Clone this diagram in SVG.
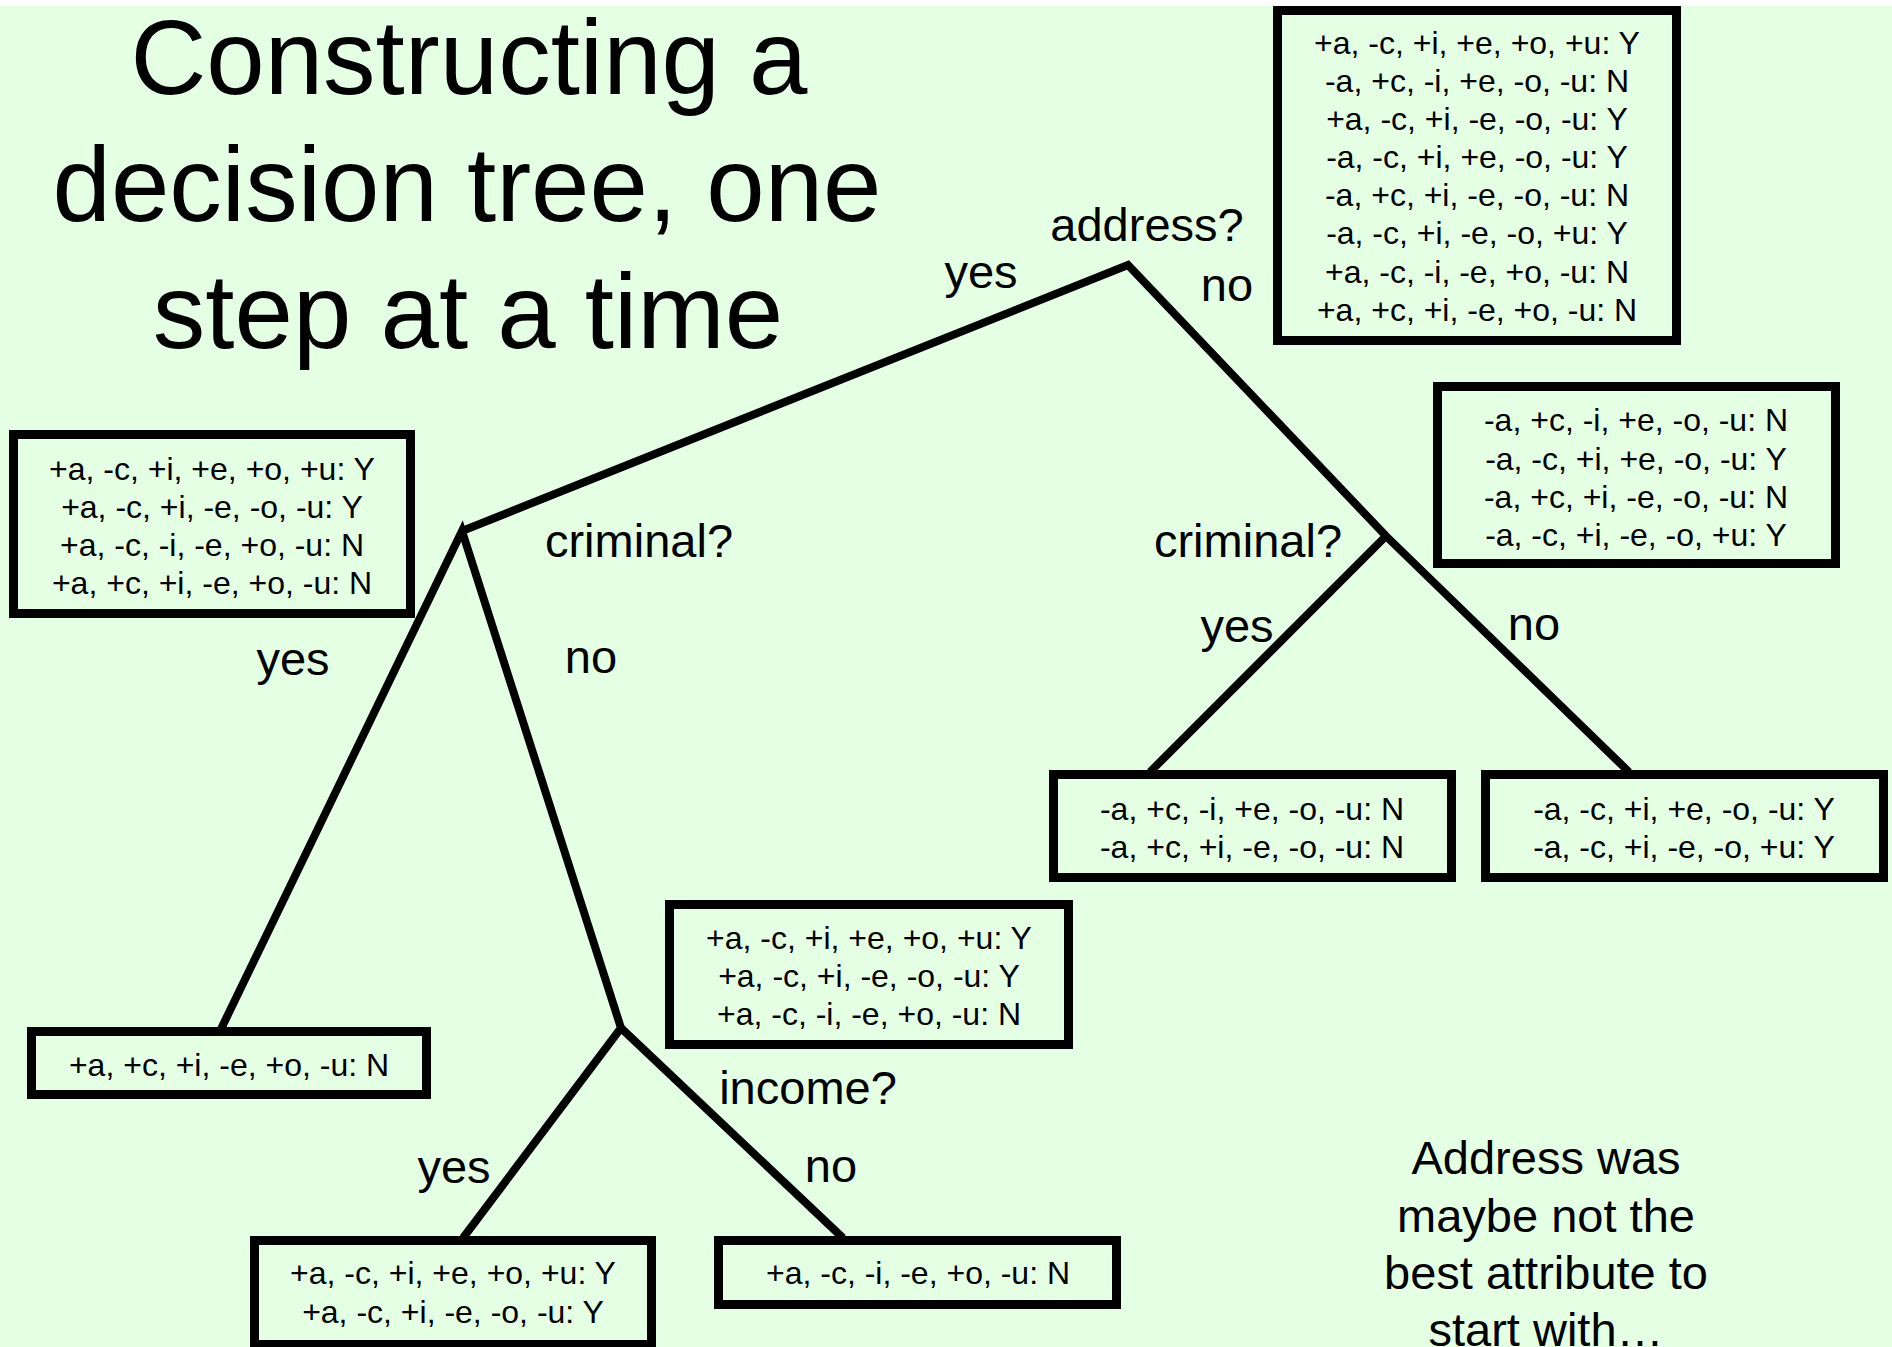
<svg xmlns="http://www.w3.org/2000/svg" width="1892" height="1347" viewBox="0 0 1892 1347">
<style>
text{font-family:"Liberation Sans",Arial,sans-serif;fill:#000;text-anchor:middle}
.title{font-size:105px}
.lbl{font-size:47px}
.data{font-size:32px}
.box{fill:none;stroke:#000;stroke-width:9}
.edge{stroke:#000;stroke-width:8;fill:none;stroke-linecap:butt;stroke-linejoin:miter}
</style>
<rect x="0" y="0" width="1892" height="1347" fill="#ffffff"/>
<rect x="0" y="6" width="1892" height="1341" fill="#E4FFE4"/>

<g id="title">
<text class="title" x="469" y="94">Constructing a</text>
<text class="title" x="467" y="221">decision tree, one</text>
<text class="title" x="468" y="348">step at a time</text>
</g>

<g id="connectors">
<polyline class="edge" points="462,531 1128,265 1386,536 1629,772"/>
<line class="edge" x1="1386" y1="536" x2="1150" y2="772"/>
<polyline class="edge" points="221,1029 462,531 621,1028 463,1238"/>
<line class="edge" x1="621" y1="1028" x2="843" y2="1238"/>
</g>

<g id="edge-labels">
<text class="lbl" x="981" y="288">yes</text>
<text class="lbl" x="1227" y="301">no</text>
<text class="lbl" x="293" y="675">yes</text>
<text class="lbl" x="591" y="673">no</text>
<text class="lbl" x="1237" y="642">yes</text>
<text class="lbl" x="1534" y="640">no</text>
<text class="lbl" x="454" y="1183">yes</text>
<text class="lbl" x="831" y="1182">no</text>
</g>

<g id="node-address">
<text class="lbl" x="1147" y="241">address?</text>
</g>
<g id="node-criminal-left">
<text class="lbl" x="639" y="557">criminal?</text>
</g>
<g id="node-criminal-right">
<text class="lbl" x="1248" y="557">criminal?</text>
</g>
<g id="node-income">
<text class="lbl" x="808" y="1104">income?</text>
</g>

<g id="box-root">
<rect class="box" x="1277.5" y="10.5" width="399" height="330"/>
<text class="data" x="1477" y="54">+a, -c, +i, +e, +o, +u: Y</text>
<text class="data" x="1477" y="92">-a, +c, -i, +e, -o, -u: N</text>
<text class="data" x="1477" y="130">+a, -c, +i, -e, -o, -u: Y</text>
<text class="data" x="1477" y="168">-a, -c, +i, +e, -o, -u: Y</text>
<text class="data" x="1477" y="206">-a, +c, +i, -e, -o, -u: N</text>
<text class="data" x="1477" y="244">-a, -c, +i, -e, -o, +u: Y</text>
<text class="data" x="1477" y="283">+a, -c, -i, -e, +o, -u: N</text>
<text class="data" x="1477" y="321">+a, +c, +i, -e, +o, -u: N</text>
</g>

<g id="box-address-yes">
<rect class="box" x="13.5" y="434.5" width="397" height="179"/>
<text class="data" x="212" y="480">+a, -c, +i, +e, +o, +u: Y</text>
<text class="data" x="212" y="518">+a, -c, +i, -e, -o, -u: Y</text>
<text class="data" x="212" y="556">+a, -c, -i, -e, +o, -u: N</text>
<text class="data" x="212" y="594">+a, +c, +i, -e, +o, -u: N</text>
</g>

<g id="box-address-no">
<rect class="box" x="1437.5" y="386.5" width="398" height="177"/>
<text class="data" x="1636" y="431">-a, +c, -i, +e, -o, -u: N</text>
<text class="data" x="1636" y="470">-a, -c, +i, +e, -o, -u: Y</text>
<text class="data" x="1636" y="508">-a, +c, +i, -e, -o, -u: N</text>
<text class="data" x="1636" y="546">-a, -c, +i, -e, -o, +u: Y</text>
</g>

<g id="box-right-crim-yes">
<rect class="box" x="1053.5" y="774.5" width="398" height="103"/>
<text class="data" x="1252" y="820">-a, +c, -i, +e, -o, -u: N</text>
<text class="data" x="1252" y="858">-a, +c, +i, -e, -o, -u: N</text>
</g>

<g id="box-right-crim-no">
<rect class="box" x="1485.5" y="774.5" width="398" height="103"/>
<text class="data" x="1684" y="820">-a, -c, +i, +e, -o, -u: Y</text>
<text class="data" x="1684" y="858">-a, -c, +i, -e, -o, +u: Y</text>
</g>

<g id="box-left-crim-no">
<rect class="box" x="669.5" y="904.5" width="399" height="140"/>
<text class="data" x="869" y="949">+a, -c, +i, +e, +o, +u: Y</text>
<text class="data" x="869" y="987">+a, -c, +i, -e, -o, -u: Y</text>
<text class="data" x="869" y="1025">+a, -c, -i, -e, +o, -u: N</text>
</g>

<g id="box-left-crim-yes">
<rect class="box" x="31.5" y="1031.5" width="395" height="63"/>
<text class="data" x="229" y="1076">+a, +c, +i, -e, +o, -u: N</text>
</g>

<g id="box-income-yes">
<rect class="box" x="254.5" y="1240.5" width="397" height="104"/>
<text class="data" x="453" y="1284">+a, -c, +i, +e, +o, +u: Y</text>
<text class="data" x="453" y="1323">+a, -c, +i, -e, -o, -u: Y</text>
</g>

<g id="box-income-no">
<rect class="box" x="718.5" y="1240.5" width="398" height="64"/>
<text class="data" x="918" y="1284">+a, -c, -i, -e, +o, -u: N</text>
</g>

<g id="note">
<text class="lbl" x="1546" y="1174">Address was</text>
<text class="lbl" x="1546" y="1232">maybe not the</text>
<text class="lbl" x="1546" y="1289">best attribute to</text>
<text class="lbl" x="1546" y="1346">start with…</text>
</g>
</svg>
